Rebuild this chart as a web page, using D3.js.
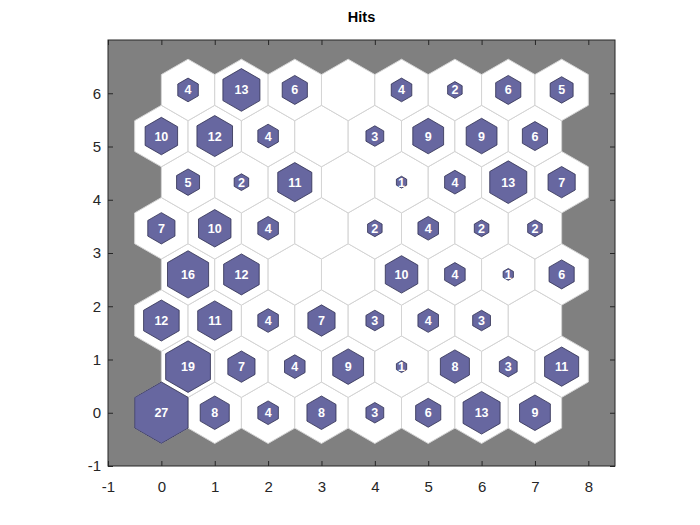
<!DOCTYPE html>
<html><head><meta charset="utf-8">
<script src="https://cdn.jsdelivr.net/npm/d3@7"></script>
<style>body{margin:0;background:#fff}svg{display:block}text{font-family:"Liberation Sans",Arial,Helvetica,sans-serif}</style>
</head><body><svg id="c" width="700" height="525"></svg>
<script>
const title = "Hits";
const xTicks = [-1,0,1,2,3,4,5,6,7,8];
const yTicks = [-1,0,1,2,3,4,5,6];
// hits per row (row 0 at bottom); odd rows shifted right by 0.5
const hitsRow0 = [27, 8, 4, 8, 3, 6, 13, 9];
const hitsRow1 = [19, 7, 4, 9, 1, 8, 3, 11];
const hitsRow2 = [12, 11, 4, 7, 3, 4, 3, 0];
const hitsRow3 = [16, 12, 0, 0, 10, 4, 1, 6];
const hitsRow4 = [7, 10, 4, 0, 2, 4, 2, 2];
const hitsRow5 = [5, 2, 11, 0, 1, 4, 13, 7];
const hitsRow6 = [10, 12, 4, 0, 3, 9, 9, 6];
const hitsRow7 = [4, 13, 6, 0, 4, 2, 6, 5];
const rows = [hitsRow0,hitsRow1,hitsRow2,hitsRow3,hitsRow4,hitsRow5,hitsRow6,hitsRow7];

const svg = d3.select("#c");
const L=108,R=615,T=40,B=466;
const x = d3.scaleLinear().domain([-1,8.5]).range([L,R]);
const y = d3.scaleLinear().domain([-1,7]).range([B,T]);

svg.append("rect").attr("x",L).attr("y",T).attr("width",R-L).attr("height",B-T).attr("fill","#808080");

const cells=[];
rows.forEach((r,j)=>r.forEach((h,i)=>cells.push({cx:i+(j%2?0.5:0), cy:j*Math.sqrt(3)/2, h})));
const maxH = d3.max(cells,d=>d.h);
const rad = 1/Math.sqrt(3);
function hexPath(cx,cy,rr){
  const pts=[];
  for(let k=0;k<6;k++){const a=Math.PI/2+k*Math.PI/3;pts.push([x(cx+rr*Math.cos(a)),y(cy+rr*Math.sin(a))]);}
  return "M"+pts.map(p=>p.join(",")).join("L")+"Z";
}
const g=svg.append("g");
g.selectAll("path.bg").data(cells).join("path").attr("class","bg")
 .attr("d",d=>hexPath(d.cx,d.cy,rad)).attr("fill","#fff").attr("stroke","#d4d4d4").attr("stroke-width",1);
const hc=cells.filter(d=>d.h>0);
g.selectAll("path.hit").data(hc).join("path").attr("class","hit")
 .attr("d",d=>hexPath(d.cx,d.cy,rad*Math.sqrt(d.h/maxH))).attr("fill","#6767a0").attr("stroke","#2e2e50").attr("stroke-width",0.8);
g.selectAll("text.lab").data(hc).join("text").attr("class","lab")
 .attr("x",d=>x(d.cx)).attr("y",d=>y(d.cy)).attr("dy","0.36em").attr("text-anchor","middle")
 .attr("fill","#fff").attr("font-weight","bold").attr("font-size",12.5).text(d=>d.h);

// axes
const fmt=d=>String(d);
const ax=svg.append("g").attr("transform",`translate(0,${B})`).call(d3.axisBottom(x).tickValues(xTicks).tickSizeInner(-5).tickSizeOuter(0).tickPadding(15).tickFormat(fmt));
const ay=svg.append("g").attr("transform",`translate(${L},0)`).call(d3.axisLeft(y).tickValues(yTicks).tickSizeInner(-5).tickSizeOuter(0).tickPadding(7).tickFormat(fmt));
const axt=svg.append("g").attr("transform",`translate(0,${T})`).call(d3.axisTop(x).tickValues(xTicks).tickSizeInner(-5).tickSizeOuter(0).tickFormat(""));
const ayr=svg.append("g").attr("transform",`translate(${R},0)`).call(d3.axisRight(y).tickValues(yTicks).tickSizeInner(-5).tickSizeOuter(0).tickFormat(""));
[ax,ay,axt,ayr].forEach(a=>{a.select(".domain").remove();a.selectAll("line").attr("stroke","#262626");a.selectAll("text").attr("fill","#262626").attr("font-size",15).attr("font-family","'Liberation Sans',Arial,sans-serif");});
svg.append("rect").attr("x",L).attr("y",T).attr("width",R-L).attr("height",B-T).attr("fill","none").attr("stroke","#262626").attr("stroke-width",1);
svg.append("text").attr("x",(L+R)/2).attr("y",22).attr("text-anchor","middle").attr("font-weight","bold").attr("font-size",14.5).attr("fill","#000").text(title);
</script></body></html>
